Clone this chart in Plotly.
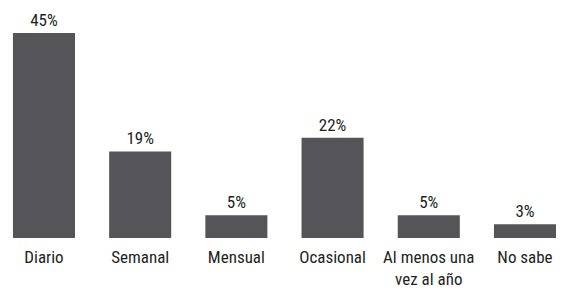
import plotly.graph_objects as go

categories = ["Diario", "Semanal", "Mensual", "Ocasional", "Al menos una<br>vez al año", "No sabe"]
values = [45, 19, 5, 22, 5, 3]
value_labels = ["45%", "19%", "5%", "22%", "5%", "3%"]

font_family = "Roboto Condensed, Liberation Sans Narrow, sans-serif"

fig = go.Figure(go.Bar(
    x=list(range(len(categories))),
    y=values,
    text=value_labels,
    textposition="outside",
    textfont=dict(family=font_family, size=17, color="#231f20"),
    marker=dict(color="#545459", line=dict(width=0)),
    cliponaxis=False,
))

fig.update_layout(
    width=559, height=282,
    margin=dict(l=0, r=0, t=0, b=52),
    plot_bgcolor="white", paper_bgcolor="white",
    bargap=0.355,
    showlegend=False,
    xaxis=dict(
        range=[-0.374, 5.437],
        tickmode="array",
        tickvals=list(range(len(categories))),
        ticktext=categories,
        tickfont=dict(family=font_family, size=17, color="#231f20"),
        ticklabelstandoff=7,
        showgrid=False, zeroline=False, showline=False, ticks="",
    ),
    yaxis=dict(range=[0, 50.5], visible=False),
)

fig.write_html("out.html")
